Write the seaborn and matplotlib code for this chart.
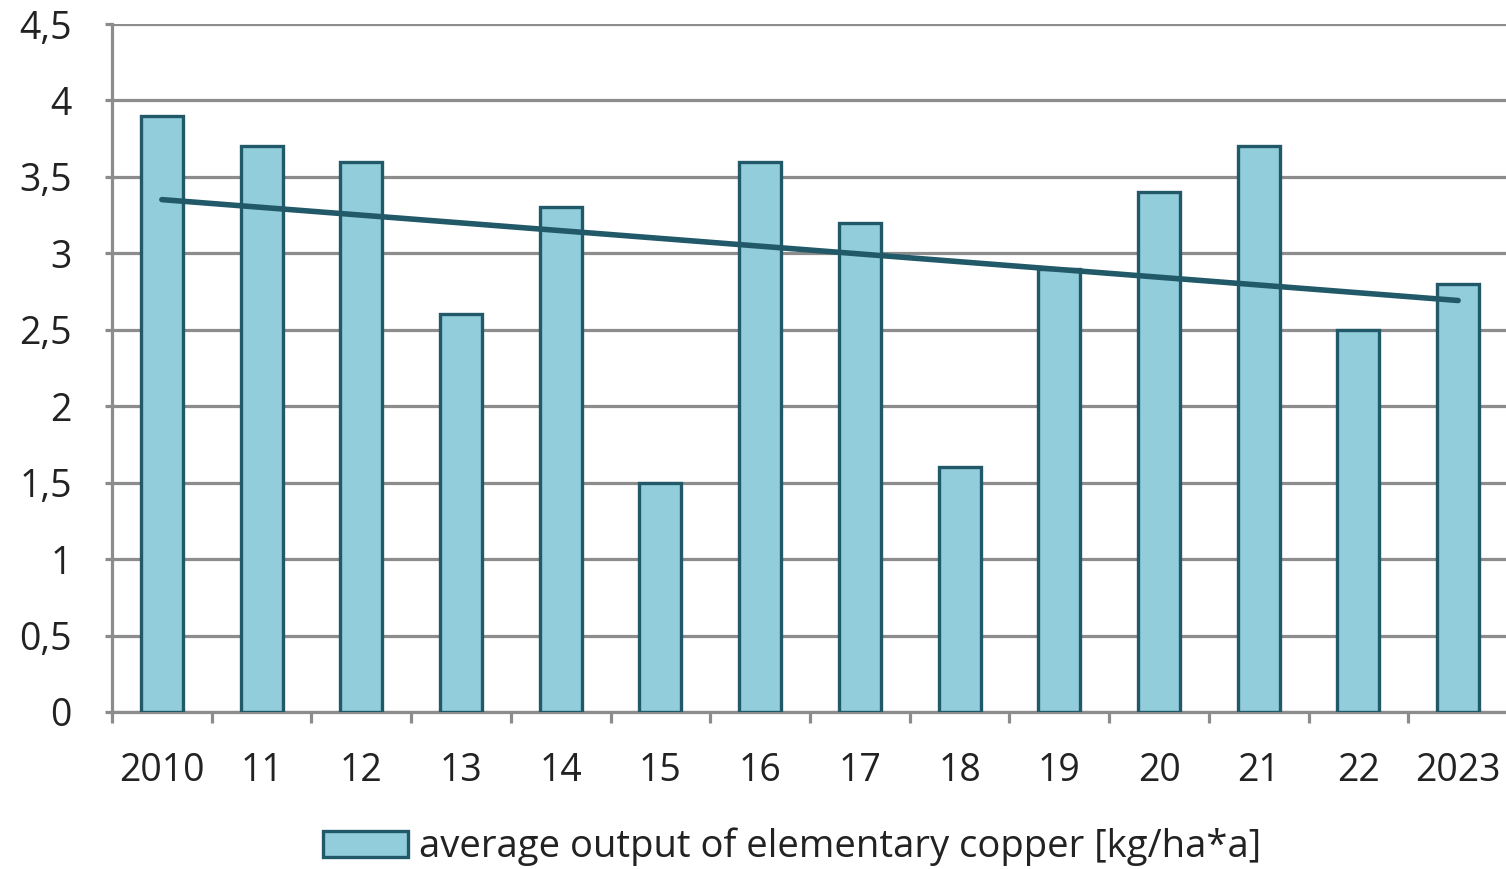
import numpy as np
import pandas as pd
import matplotlib
matplotlib.use("Agg")
import matplotlib.pyplot as plt
import seaborn as sns
from matplotlib.patches import Patch
from matplotlib.ticker import FuncFormatter

years = ["2010", "11", "12", "13", "14", "15", "16", "17", "18", "19", "20", "21", "22", "2023"]
copper = [3.9, 3.7, 3.6, 2.6, 3.3, 1.5, 3.6, 3.2, 1.6, 2.9, 3.4, 3.7, 2.5, 2.8]
series_label = "average output of elementary copper [kg/ha*a]"
y_ticks = [0, 0.5, 1, 1.5, 2, 2.5, 3, 3.5, 4, 4.5]

sns.set_theme(style="white")
plt.rcParams['font.family'] = ['Open Sans', 'DejaVu Sans']

bar_color = "#92CDDC"
edge_color = "#215968"
grid_color = "#8C8C8C"

df = pd.DataFrame({"year": years, "value": copper})

fig = plt.figure(figsize=(15.06, 8.69), dpi=100)
ax = fig.add_axes([112/1506, 1-712/869, (1508-112)/1506, (712-24)/869])

sns.barplot(data=df, x="year", y="value", ax=ax, color=bar_color,
            edgecolor=edge_color, linewidth=2.4, width=0.42, saturation=1, zorder=3)

# linear trend line computed from data
xs = np.arange(len(copper))
k, b = np.polyfit(xs, copper, 1)
ax.plot(xs, k*xs + b, color=edge_color, linewidth=4.0, solid_capstyle='round', zorder=4)

ax.set_xlim(-0.5, len(years) - 0.5)
ax.set_ylim(0, 4.5)
ax.set_yticks(y_ticks)
ax.yaxis.set_major_formatter(FuncFormatter(lambda v, p: (f"{v:g}").replace(".", ",")))
ax.set_xlabel("")
ax.set_ylabel("")

ax.yaxis.grid(True, color=grid_color, linewidth=2.3, zorder=0)
ax.set_axisbelow(True)

for s in ["top", "right"]:
    ax.spines[s].set_visible(False)
for s in ["left", "bottom"]:
    ax.spines[s].set_color(grid_color)
    ax.spines[s].set_linewidth(2.3)

ax.tick_params(axis="y", which="major", left=True, length=5, width=2.3, color=grid_color,
               labelsize=27, pad=24, labelcolor="#222222")
ax.tick_params(axis="x", which="major", length=0, labelsize=27, pad=29, labelcolor="#222222")
ax.set_xticks(np.arange(-0.5, len(years), 1.0), minor=True)
ax.tick_params(axis="x", which="minor", bottom=True, length=8, width=2.3, color=grid_color, direction="out")

handle = Patch(facecolor=bar_color, edgecolor=edge_color, linewidth=2.4)
fig.legend([handle], [series_label], loc="center", bbox_to_anchor=(792/1506, 1-847/869),
           frameon=False, fontsize=27.5, handlelength=2.25, handleheight=0.67,
           handletextpad=0.28, labelcolor="#222222")

fig.savefig("out.png", dpi=100)
